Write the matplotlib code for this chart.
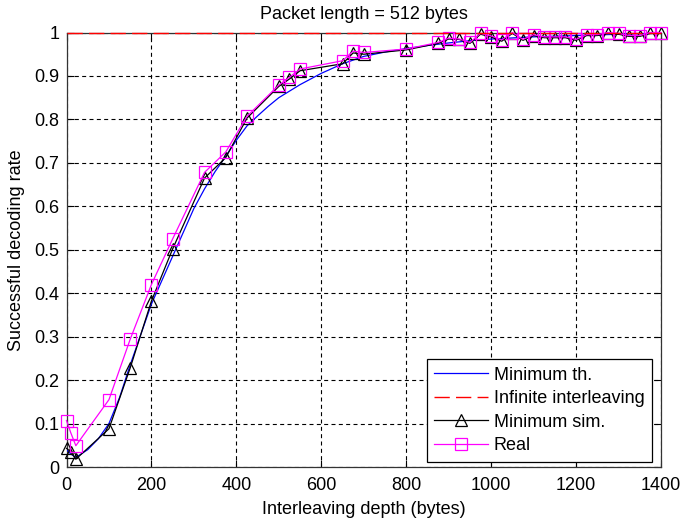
import matplotlib
matplotlib.use("Agg")
import matplotlib.pyplot as plt

# ---------------- data ----------------
title_text = "Packet length = 512 bytes"
xlabel_text = "Interleaving depth (bytes)"
ylabel_text = "Successful decoding rate"

x_ticks = [0, 200, 400, 600, 800, 1000, 1200, 1400]
y_ticks = [0, 0.1, 0.2, 0.3, 0.4, 0.5, 0.6, 0.7, 0.8, 0.9, 1.0]
y_tick_labels = ["0", "0.1", "0.2", "0.3", "0.4", "0.5", "0.6", "0.7", "0.8", "0.9", "1"]

# Minimum th. (theoretical curve)
th_x = [0, 10, 22, 50, 75, 100, 125, 150, 175, 200, 225, 250, 275, 300, 325, 350,
        375, 400, 425, 450, 475, 500, 550, 600, 650, 700, 750, 800, 850, 900, 950,
        1000, 1100, 1200, 1300, 1400]
th_y = [0.040, 0.030, 0.022, 0.040, 0.065, 0.100, 0.160, 0.235, 0.305, 0.375, 0.430,
        0.485, 0.540, 0.595, 0.640, 0.680, 0.715, 0.752, 0.785, 0.808, 0.830, 0.850,
        0.880, 0.906, 0.928, 0.945, 0.955, 0.963, 0.970, 0.976, 0.981, 0.985, 0.990,
        0.993, 0.996, 0.998]

# Infinite interleaving
inf_x = [0, 1400]
inf_y = [1.0, 1.0]

# Minimum sim.
sim_x = [0, 10, 22, 100, 150, 200, 250, 325, 375, 425, 500, 525, 550, 650, 675, 700, 800,
         875, 900, 925, 950, 975, 1000, 1025, 1050, 1075, 1100, 1125, 1150, 1175, 1200,
         1225, 1250, 1275, 1300, 1325, 1350, 1375, 1400]
sim_y = [0.043, 0.035, 0.018, 0.088, 0.228, 0.382, 0.502, 0.665, 0.712, 0.803, 0.876,
         0.893, 0.912, 0.928, 0.953, 0.950, 0.960,
         0.975, 0.985, 0.984, 0.975, 0.996, 0.990, 0.980, 0.998, 0.982, 0.993, 0.988,
         0.988, 0.988, 0.982, 0.993, 0.993, 0.998, 0.996, 0.991, 0.991, 0.998, 0.998]

# Real
real_x = [0, 10, 22, 100, 150, 200, 250, 325, 375, 425, 500, 525, 550, 650, 675, 700, 800,
          875, 900, 925, 950, 975, 1000, 1025, 1050, 1075, 1100, 1125, 1150, 1175, 1200,
          1225, 1250, 1275, 1300, 1325, 1350, 1375, 1400]
real_y = [0.107, 0.079, 0.049, 0.155, 0.294, 0.420, 0.525, 0.678, 0.725, 0.807, 0.879,
          0.897, 0.916, 0.935, 0.957, 0.954, 0.962,
          0.977, 0.987, 0.985, 0.977, 0.998, 0.992, 0.983, 1.000, 0.984, 0.995, 0.990,
          0.990, 0.990, 0.984, 0.995, 0.995, 1.000, 0.998, 0.993, 0.993, 1.000, 1.000]

labels = ["Minimum th.", "Infinite interleaving", "Minimum sim.", "Real"]

# ---------------- style ----------------
plt.rcParams["font.family"] = ["Liberation Sans"]
FS = 13

fig = plt.figure(figsize=(6.81, 5.21), dpi=100)
ax = fig.add_axes([66.5 / 681, 1 - 467 / 521, 594.5 / 681, 434.5 / 521])

ax.plot(th_x, th_y, color="#0000FF", lw=0.9, label=labels[0], zorder=3)
ax.plot(inf_x, inf_y, color="#FF0000", lw=1.0, ls=(0, (11, 4.5)), label=labels[1],
        zorder=7, clip_on=False)
ax.plot(sim_x, sim_y, color="black", lw=0.9, marker="^", ms=8.5, mfc="none",
        mec="black", mew=0.9, label=labels[2], zorder=5, clip_on=False)
ax.plot(real_x, real_y, color="#FF00FF", lw=0.9, marker="s", ms=8.5, mfc="none",
        mec="#FF00FF", mew=0.9, label=labels[3], zorder=6, clip_on=False)

ax.set_xlim(0, 1400)
ax.set_ylim(0, 1)
ax.set_xticks(x_ticks)
ax.set_xticklabels([str(v) for v in x_ticks])
ax.set_yticks(y_ticks)
ax.set_yticklabels(y_tick_labels)
ax.tick_params(direction="in", length=5, width=0.8, top=True, right=True,
               labelsize=FS, colors="black")
ax.tick_params(axis="x", pad=7)
ax.tick_params(axis="y", pad=5)
ax.grid(True, color="black", ls=(0, (3.6, 3.0)), lw=0.8)
for s in ax.spines.values():
    s.set_linewidth(0.9)
    s.set_color("#333333")

ax.set_title(title_text, fontsize=FS, pad=10)
ax.set_xlabel(xlabel_text, fontsize=FS, labelpad=5)
ax.set_ylabel(ylabel_text, fontsize=FS, labelpad=7)

leg = ax.legend(loc="lower right", bbox_to_anchor=(0.985, 0.012), fontsize=FS,
                frameon=True, fancybox=False, edgecolor="black", framealpha=1,
                numpoints=1, handlelength=3.0, handletextpad=0.3,
                labelspacing=0.36, borderpad=0.42, borderaxespad=0)
leg.get_frame().set_linewidth(0.9)
leg.set_zorder(10)

fig.savefig("out.png", dpi=100)
